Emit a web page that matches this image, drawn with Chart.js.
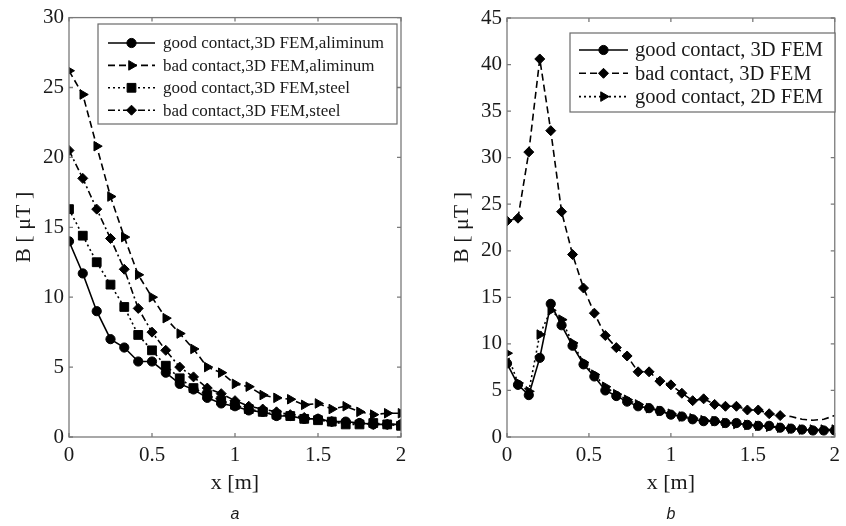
<!DOCTYPE html>
<html>
<head>
<meta charset="utf-8">
<script src="https://cdn.jsdelivr.net/npm/chart.js@4.4.1/dist/chart.umd.min.js"></script>
<style>
  html, body { margin: 0; padding: 0; background: #fff; }
  #wrap { position: relative; width: 846px; height: 526px; overflow: hidden; background: #fff; }
  #wrap canvas { position: absolute; top: 0; }
</style>
</head>
<body>
<div id="wrap">
  <canvas id="chartA" width="423" height="526" style="left:0"></canvas>
  <canvas id="chartB" width="423" height="526" style="left:423px"></canvas>
</div>
<script>
// ---- panel a: field along the line, two contact states, two materials ----
const xA = [0, 0.083, 0.167, 0.25, 0.333, 0.417, 0.5, 0.583, 0.667, 0.75, 0.833, 0.917, 1,
            1.083, 1.167, 1.25, 1.333, 1.417, 1.5, 1.583, 1.667, 1.75, 1.833, 1.917, 2];
const goodAlu3D = [14.0, 11.7, 9.0, 7.0, 6.4, 5.4, 5.4, 4.6, 3.8, 3.4, 2.8, 2.4, 2.2,
                   1.9, 1.8, 1.5, 1.5, 1.3, 1.3, 1.1, 1.1, 1.0, 0.9, 0.9, 0.9];
const badAlu3D  = [26.2, 24.5, 20.8, 17.2, 14.3, 11.6, 10.0, 8.5, 7.4, 6.3, 5.0, 4.6, 3.8,
                   3.6, 3.0, 2.8, 2.7, 2.3, 2.4, 2.0, 2.2, 1.8, 1.6, 1.7, 1.7];
const goodSteel3D = [16.3, 14.4, 12.5, 10.9, 9.3, 7.3, 6.2, 5.1, 4.2, 3.5, 3.0, 2.6, 2.3,
                     2.0, 1.8, 1.6, 1.5, 1.3, 1.2, 1.1, 0.9, 0.9, 1.0, 0.9, 0.8];
const badSteel3D  = [20.5, 18.5, 16.3, 14.2, 12.0, 9.2, 7.5, 6.2, 5.0, 4.3, 3.5, 3.1, 2.6,
                     2.2, 2.0, 1.8, 1.6, 1.4, 1.3, 1.1, 1.0, 1.0, 0.9, 0.9, 0.9];
const labelsA = ['good contact,3D FEM,aliminum', 'bad contact,3D FEM,aliminum',
                 'good contact,3D FEM,steel', 'bad contact,3D FEM,steel'];

// ---- panel b: 3D vs 2D model ----
const xB = [0, 0.067, 0.133, 0.2, 0.267, 0.333, 0.4, 0.467, 0.533, 0.6, 0.667, 0.733, 0.8,
            0.867, 0.933, 1, 1.067, 1.133, 1.2, 1.267, 1.333, 1.4, 1.467, 1.533, 1.6, 1.667,
            1.733, 1.8, 1.867, 1.933, 2];
const good3D = [7.9, 5.6, 4.5, 8.5, 14.3, 12.0, 9.8, 7.8, 6.5, 5.0, 4.4, 3.8, 3.3, 3.1, 2.8,
                2.4, 2.2, 1.9, 1.7, 1.7, 1.5, 1.5, 1.3, 1.2, 1.2, 1.0, 0.9, 0.8, 0.7, 0.7, 0.7];
const bad3D  = [23.2, 23.5, 30.6, 40.6, 32.9, 24.2, 19.6, 16.0, 13.3, 10.9, 9.6, 8.7, 7.0, 7.0,
                6.0, 5.6, 4.7, 3.9, 4.1, 3.5, 3.3, 3.3, 2.9, 2.9, 2.5, 2.3, 2.2, 1.9, 1.8, 1.9, 2.3];
const good2D = [9.0, 5.8, 4.9, 11.0, 13.6, 12.6, 10.1, 8.0, 6.7, 5.4, 4.6, 4.0, 3.5, 3.1, 2.8,
                2.5, 2.2, 2.0, 1.8, 1.7, 1.5, 1.4, 1.3, 1.2, 1.1, 1.0, 0.9, 0.8, 0.8, 0.8, 0.8];
const labelsB = ['good contact, 3D FEM', 'bad contact, 3D FEM', 'good contact, 2D FEM'];

const xTicks = [0, 0.5, 1, 1.5, 2];
const xTickText = ['0', '0.5', '1', '1.5', '2'];
const SERIF = '"Liberation Serif", "Times New Roman", serif';

const pts = (xs, ys) => ys.map((v, i) => ({ x: xs[i], y: v }));

// line looks
const LOOK = {
  solid:   { borderDash: [] },
  dashed:  { borderDash: [7, 4] },
  dotted:  { borderDash: [2, 3] },
  dashdot: { borderDash: [7, 3, 2, 3] }
};
// marker looks
const MARK = {
  circle:   { pointStyle: 'circle', rotation: 0, radius: 4.6 },
  triangle: { pointStyle: 'triangle', rotation: 90, radius: 5.5 },
  square:   { pointStyle: 'rect', rotation: 0, radius: 6.2 },
  diamond:  { pointStyle: 'rectRot', rotation: 0, radius: 5 }
};

function series(label, data, look, mark, extra) {
  const m = MARK[mark];
  return Object.assign({
    label, data,
    borderColor: '#000', backgroundColor: '#000',
    borderWidth: 1.6, borderDash: LOOK[look].borderDash,
    pointStyle: m.pointStyle, pointRotation: m.rotation,
    pointRadius: m.radius, pointBorderWidth: 1,
    pointBackgroundColor: '#000', pointBorderColor: '#000',
    tension: 0, fill: false, _mark: mark
  }, extra || {});
}

// frame, inward ticks, axis titles, panel letter and a line+marker legend
const panelDecor = {
  id: 'panelDecor',
  afterDatasetsDraw(chart) {
    const ctx = chart.ctx, a = chart.chartArea;
    const xs = chart.scales.x, ys = chart.scales.y;
    ctx.save();
    ctx.strokeStyle = '#7a7a7a';
    ctx.lineWidth = 1.3;
    ctx.setLineDash([]);
    ctx.strokeRect(a.left, a.top, a.right - a.left, a.bottom - a.top);
    ctx.beginPath();
    const tl = 4;
    xs.ticks.forEach(t => {
      const px = xs.getPixelForValue(t.value);
      ctx.moveTo(px, a.bottom); ctx.lineTo(px, a.bottom - tl);
      ctx.moveTo(px, a.top); ctx.lineTo(px, a.top + tl);
    });
    ys.ticks.forEach(t => {
      const py = ys.getPixelForValue(t.value);
      ctx.moveTo(a.left, py); ctx.lineTo(a.left + tl, py);
      ctx.moveTo(a.right, py); ctx.lineTo(a.right - tl, py);
    });
    ctx.stroke();
    ctx.restore();
  },
  afterDraw(chart, args, o) {
    const ctx = chart.ctx, a = chart.chartArea;
    const cx = (a.left + a.right) / 2, cy = (a.top + a.bottom) / 2;
    ctx.save();
    ctx.fillStyle = '#1a1a1a';
    ctx.textAlign = 'center';
    ctx.textBaseline = 'middle';
    // axis titles
    ctx.font = '22px ' + SERIF;
    ctx.fillText(o.xTitle, cx, o.xTitleY);
    ctx.save();
    ctx.translate(o.yTitleX, cy);
    ctx.rotate(-Math.PI / 2);
    ctx.fillText(o.yTitle, 0, 0);
    ctx.restore();
    // panel letter
    ctx.font = 'italic 16px "Liberation Sans", Arial, sans-serif';
    ctx.fillText(o.letter, cx, o.letterY);

    // legend
    const L = o.legend;
    ctx.fillStyle = '#fff';
    ctx.fillRect(L.x, L.y, L.w, L.h);
    ctx.strokeStyle = '#6a6a6a';
    ctx.lineWidth = 1.2;
    ctx.strokeRect(L.x, L.y, L.w, L.h);
    ctx.textAlign = 'left';
    ctx.font = L.font + 'px ' + SERIF;
    chart.data.datasets.forEach((ds, i) => {
      const ry = L.firstRow + i * L.rowH;
      ctx.strokeStyle = '#000';
      ctx.fillStyle = '#000';
      ctx.lineWidth = ds.borderWidth;
      ctx.setLineDash(ds.borderDash || []);
      ctx.beginPath();
      ctx.moveTo(L.lineX0, ry);
      ctx.lineTo(L.lineX1, ry);
      ctx.stroke();
      ctx.setLineDash([]);
      const m = MARK[ds._mark];
      ctx.lineWidth = 1;
      Chart.helpers.drawPoint(ctx, {
        pointStyle: m.pointStyle, rotation: m.rotation, radius: m.radius, borderWidth: 1
      }, (L.lineX0 + L.lineX1) / 2, ry);
      ctx.fillStyle = '#1a1a1a';
      ctx.fillText(ds.label, L.textX, ry + 1);
    });
    ctx.restore();
  }
};

function makeOptions(yMax, layoutPad, yWidth, decor) {
  return {
    responsive: false,
    animation: false,
    devicePixelRatio: 1,
    layout: { padding: layoutPad },
    plugins: { legend: { display: false }, tooltip: { enabled: false }, panelDecor: decor },
    scales: {
      x: {
        type: 'linear', min: 0, max: 2,
        afterBuildTicks: s => { s.ticks = xTicks.map(v => ({ value: v })); },
        grid: { display: false, drawTicks: false },
        border: { display: false },
        ticks: {
          color: '#1a1a1a', padding: 6, maxRotation: 0,
          font: { family: SERIF, size: 21 },
          callback: v => xTickText[xTicks.indexOf(v)]
        },
        afterFit: s => { s.height = 526 - 437; }
      },
      y: {
        type: 'linear', min: 0, max: yMax,
        ticks: { stepSize: 5, color: '#1a1a1a', padding: 5, font: { family: SERIF, size: 21 } },
        grid: { display: false, drawTicks: false },
        border: { display: false },
        afterFit: s => { s.width = yWidth; }
      }
    }
  };
}

new Chart(document.getElementById('chartA'), {
  type: 'line',
  data: {
    datasets: [
      series(labelsA[0], pts(xA, goodAlu3D), 'solid', 'circle'),
      series(labelsA[1], pts(xA, badAlu3D), 'dashed', 'triangle'),
      series(labelsA[2], pts(xA, goodSteel3D), 'dotted', 'square'),
      series(labelsA[3], pts(xA, badSteel3D), 'dashdot', 'diamond')
    ]
  },
  options: makeOptions(30, { top: 17, right: 22, left: 0, bottom: 0 }, 69, {
    xTitle: 'x [m]', xTitleY: 483, yTitle: 'B [ \u03BCT ]', yTitleX: 24,
    letter: 'a', letterY: 515,
    legend: { x: 98, y: 24, w: 299, h: 100, font: 17, firstRow: 43, rowH: 22.4,
              lineX0: 108, lineX1: 155, textX: 163 }
  }),
  plugins: [panelDecor]
});

new Chart(document.getElementById('chartB'), {
  type: 'line',
  data: {
    datasets: [
      series(labelsB[0], pts(xB, good3D), 'solid', 'circle'),
      series(labelsB[1], pts(xB, bad3D), 'dashed', 'diamond', {
        pointRadius: c => (c.dataIndex > 25 ? 0 : MARK.diamond.radius)
      }),
      series(labelsB[2], pts(xB, good2D), 'dotted', 'triangle')
    ]
  },
  options: makeOptions(45, { top: 18, right: 9, left: 0, bottom: 0 }, 84, {
    xTitle: 'x [m]', xTitleY: 483, yTitle: 'B [ \u03BCT ]', yTitleX: 39,
    letter: 'b', letterY: 515,
    legend: { x: 147, y: 33, w: 265, h: 79, font: 20.5, firstRow: 50, rowH: 23.3,
              lineX0: 156, lineX1: 205, textX: 212 }
  }),
  plugins: [panelDecor]
});
</script>
</body>
</html>
